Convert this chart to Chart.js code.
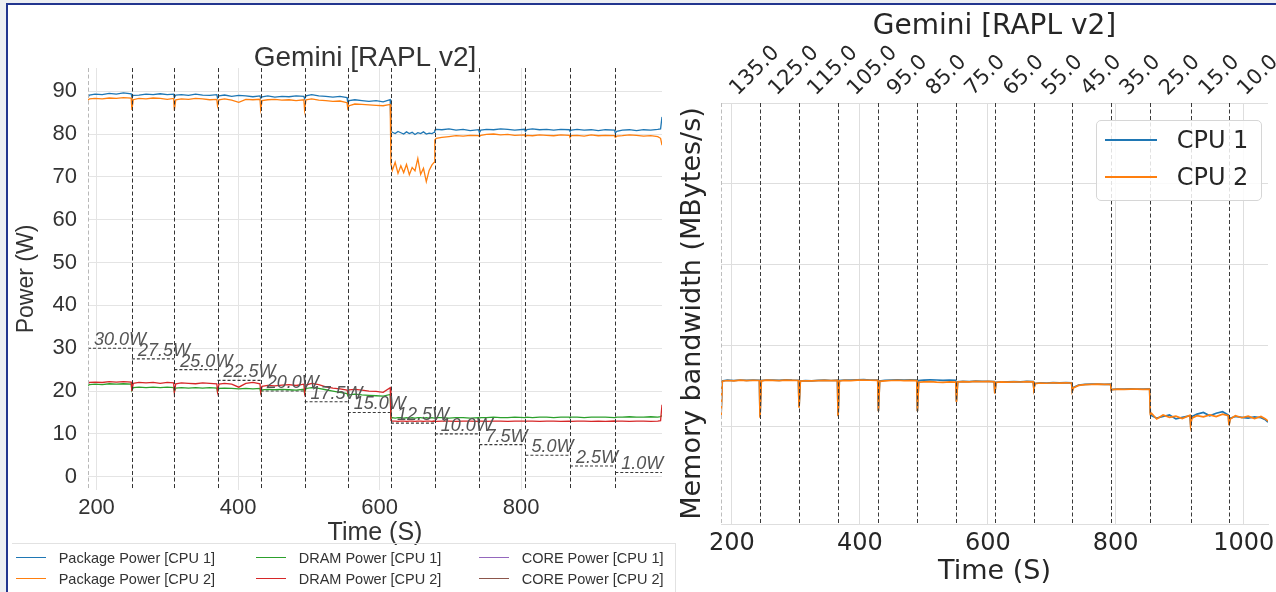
<!DOCTYPE html>
<html>
<head>
<meta charset="utf-8">
<title>Gemini [RAPL v2]</title>
<script src="https://cdn.jsdelivr.net/npm/chart.js@4.4.1/dist/chart.umd.min.js"></script>
<style>
  html, body { margin: 0; padding: 0; }
  body { width: 1276px; height: 592px; position: relative; overflow: hidden; background: #fff; }
  .gutter-left { position: absolute; left: 0; top: 0; width: 6px; height: 592px; background: #eceef2; }
  .gutter-top { position: absolute; left: 0; top: 0; width: 1276px; height: 3px; background: #eceef2; }
  .frame-top { position: absolute; left: 6px; top: 3px; width: 1270px; height: 2px; background: #22358f; }
  .frame-left { position: absolute; left: 6px; top: 3px; width: 2px; height: 589px; background: #22358f; }
  #powerBox { position: absolute; left: 0; top: 0; width: 730px; height: 560px; }
  #bwBox { position: absolute; left: 676px; top: 0; width: 600px; height: 592px; }
  #powerLegend {
    position: absolute; left: 12px; top: 543px; width: 664px; height: 49px; box-sizing: border-box;
    border-top: 1px solid #e2e2e2; border-right: 1px solid #e2e2e2;
    padding: 3px 0 0 4px;
    display: grid; grid-auto-flow: column; grid-template-rows: 21px 21px; grid-template-columns: 240px 223px 1fr;
    font: 14.5px 'Liberation Sans', Arial, sans-serif; color: #333;
  }
  #powerLegend .item { display: flex; align-items: center; white-space: nowrap; }
  #powerLegend .swatch { display: inline-block; width: 30px; height: 1.5px; margin-right: 12.7px; }
  #bwLegend {
    position: absolute; left: 1096px; top: 120px; width: 166px; height: 81px; box-sizing: border-box;
    border: 1px solid #d6d6d6; border-radius: 5px; background: rgba(255, 255, 255, 0.85);
    padding: 1px 0 0 8px;
    font: 24px 'DejaVu Sans', sans-serif; color: #262626;
  }
  #bwLegend .item { display: flex; align-items: center; height: 36.7px; white-space: nowrap; }
  #bwLegend .swatch { display: inline-block; width: 52px; height: 2px; margin-right: 19.7px; }
</style>
</head>
<body>
<div class="gutter-left"></div>
<div class="gutter-top"></div>
<div id="powerBox"><canvas id="powerChart" width="730" height="560"></canvas></div>
<div id="bwBox"><canvas id="bwChart" width="600" height="592"></canvas></div>
<div id="powerLegend"></div>
<div id="bwLegend"></div>
<div class="frame-top"></div>
<div class="frame-left"></div>
<script>
// --- Left panel: RAPL power per CPU ---
// start of each power-cap step (last entry = end of run)
const powerBounds = [188, 250, 310, 371, 432, 494, 555, 616, 678, 741, 806, 869, 933, 999];
const capLevels = [30.0, 27.5, 25.0, 22.5, 20.0, 17.5, 15.0, 12.5, 10.0, 7.5, 5.0, 2.5, 1.0];
const powerTimeTicks = [200, 400, 600, 800];

const tPower = [
  188, 190, 198, 208, 218, 228, 238, 249,
  250, 252, 260, 270, 280, 290, 300, 309,
  310, 312, 320, 330, 340, 350, 360, 370,
  371, 373, 381, 391, 401, 411, 421, 431,
  432, 434, 442, 452, 462, 472, 482, 493,
  494, 496, 504, 514, 524, 534, 544, 554,
  555, 557, 565, 575, 585, 595, 605, 615,
  616, 618, 622, 626, 630, 634, 638, 642, 646, 650, 654, 658, 662, 666, 670, 674, 677,
  678, 680, 688, 698, 708, 718, 728, 740,
  741, 743, 751, 761, 771, 781, 791, 805,
  806, 808, 816, 826, 836, 846, 856, 868,
  869, 871, 879, 889, 899, 909, 919, 932,
  933, 935, 943, 953, 963, 973, 983, 993, 997, 999
];

const pkgCpu1 = [
  88.6, 89.1, 89.3, 89.2, 89.5, 89.3, 89.6, 89.4,
  88.6, 89.0, 89.1, 89.3, 89.2, 89.4, 89.2, 89.3,
  88.5, 89.1, 89.2, 89.0, 89.3, 89.1, 89.0, 89.2,
  88.4, 88.9, 89.1, 88.8, 89.0, 88.9, 88.7, 88.9,
  88.3, 88.7, 88.9, 88.6, 88.8, 88.7, 88.9, 88.8,
  88.2, 88.9, 89.2, 88.9, 88.8, 88.6, 88.8, 88.5,
  87.3, 87.8, 88.0, 87.8, 87.6, 87.8, 87.5, 88.0,
  80.8, 80.4, 80.1, 80.6, 80.3, 80.0, 80.5, 80.1, 80.4, 79.9, 80.3, 80.1, 80.5, 80.0, 80.2, 80.1, 80.4,
  80.9, 81.1, 81.0, 81.2, 80.9, 81.1, 80.8, 81.0,
  80.3, 80.9, 81.1, 81.0, 81.2, 81.1, 80.9, 81.1,
  80.6, 81.0, 81.2, 81.0, 81.1, 80.9, 81.1, 81.0,
  80.7, 80.9, 81.1, 80.9, 81.0, 80.8, 81.0, 80.9,
  80.2, 80.6, 80.9, 81.0, 80.8, 81.0, 80.9, 81.1, 81.2, 84.0
];
const pkgCpu2 = [
  87.9, 88.2, 88.3, 88.2, 88.4, 88.3, 88.5, 88.4,
  85.6, 88.0, 88.3, 88.2, 88.4, 88.3, 88.1, 88.3,
  85.5, 88.0, 88.2, 88.1, 88.3, 88.2, 88.0, 88.1,
  86.6, 88.0, 88.2, 87.9, 87.4, 88.1, 88.0, 88.1,
  85.8, 87.8, 88.0, 88.1, 87.9, 88.0, 87.8, 88.0,
  85.6, 88.0, 88.2, 87.9, 87.8, 87.6, 87.7, 87.3,
  86.0, 86.6, 87.0, 86.9, 86.8, 86.7, 86.6, 86.9,
  73.0, 71.5, 73.4, 70.8, 72.6, 71.0, 72.9, 70.5, 72.2, 71.4, 74.3, 70.6, 72.0, 68.9, 71.5, 72.8, 73.4,
  78.6, 79.0, 79.2, 79.4, 79.6, 79.5, 79.7, 79.6,
  79.4, 79.7, 79.9, 80.0, 79.8, 79.9, 79.7, 79.8,
  79.4, 79.7, 79.6, 79.8, 79.7, 79.6, 79.8, 79.7,
  79.3, 79.6, 79.7, 79.5, 79.8, 79.6, 79.7, 79.6,
  79.2, 79.5, 79.6, 79.8, 79.7, 79.5, 79.6, 79.4, 79.0, 77.4
];
const dramCpu1 = [
  21.3, 21.5, 21.6, 21.5, 21.7, 21.6, 21.7, 21.6,
  20.2, 20.8, 20.9, 20.8, 20.9, 20.8, 20.9, 20.8,
  19.9, 20.7, 20.8, 20.7, 20.8, 20.7, 20.8, 20.7,
  19.8, 20.6, 20.7, 20.6, 20.5, 20.6, 20.5, 20.6,
  19.6, 20.3, 20.4, 20.3, 20.4, 20.3, 20.2, 20.4,
  19.5, 20.6, 20.8, 20.6, 20.3, 20.0, 19.7, 19.4,
  19.0, 19.1, 19.3, 19.1, 19.0, 18.9, 18.8, 19.2,
  13.7, 13.8, 13.7, 13.8, 13.8, 13.7, 13.8, 13.7, 13.8, 13.7, 13.8, 13.8, 13.7, 13.8, 13.7, 13.8, 13.7,
  13.7, 13.8, 13.8, 13.7, 13.8, 13.8, 13.7, 13.8,
  13.7, 13.8, 13.8, 13.9, 13.8, 13.8, 13.9, 13.8,
  13.8, 13.9, 13.8, 13.9, 13.9, 13.8, 13.9, 13.9,
  13.8, 13.9, 13.9, 13.8, 13.9, 13.9, 13.9, 13.8,
  13.8, 13.9, 13.9, 14.0, 13.9, 13.9, 14.0, 13.9, 14.0, 14.3
];
const dramCpu2 = [
  21.7, 22.0, 22.1, 22.0, 22.2, 22.1, 22.2, 22.1,
  20.0, 21.8, 22.0, 21.9, 22.0, 21.8, 22.0, 21.9,
  19.6, 21.7, 21.9, 21.8, 21.7, 21.9, 21.8, 21.7,
  19.8, 21.6, 21.8, 21.6, 20.9, 21.8, 22.0, 21.7,
  19.7, 21.1, 21.3, 21.2, 21.4, 21.5, 21.3, 21.6,
  19.6, 21.4, 21.8, 21.5, 21.0, 20.7, 20.5, 20.2,
  19.8, 20.3, 20.4, 20.2, 20.0, 19.9, 19.7, 20.8,
  13.1, 13.0, 13.0, 12.9, 13.0, 13.0, 12.9, 13.0, 13.0, 12.9, 13.0, 13.0, 12.9, 13.0, 13.0, 12.9, 13.0,
  13.0, 12.9, 13.0, 13.0, 12.9, 13.0, 13.0, 12.9,
  13.0, 13.0, 12.9, 13.0, 13.0, 12.9, 13.0, 13.0,
  12.9, 13.0, 13.0, 12.9, 13.0, 13.0, 12.9, 13.0,
  13.0, 12.9, 13.0, 13.0, 12.9, 13.0, 12.9, 13.0,
  12.9, 13.0, 13.0, 12.9, 13.0, 13.0, 12.9, 13.0, 13.1, 16.8
];
// CORE power was not recorded on this machine, only listed in the legend
const coreCpu1 = [];
const coreCpu2 = [];

// --- Right panel: memory bandwidth per CPU ---
const bwBounds = [183, 244, 305, 366, 429, 490, 551, 611, 672, 732, 793, 854, 917, 977, 1038];
const bwLimits = ['135.0', '125.0', '115.0', '105.0', '95.0', '85.0', '75.0', '65.0', '55.0', '45.0', '35.0', '25.0', '15.0', '10.0'];
const bwTimeTicks = [200, 400, 600, 800, 1000];
const bwGrid = [10000, 20000, 30000, 40000, 50000];

const tBw = [
  183, 185, 193, 203, 213, 223, 233, 243,
  244, 246, 254, 264, 274, 284, 294, 304,
  305, 307, 315, 325, 335, 345, 355, 365,
  366, 368, 376, 386, 396, 406, 416, 428,
  429, 431, 439, 449, 459, 469, 479, 489,
  490, 492, 500, 510, 520, 530, 540, 550,
  551, 553, 561, 571, 581, 591, 601, 610,
  611, 613, 621, 631, 641, 651, 661, 671,
  672, 674, 682, 692, 702, 712, 722, 731,
  732, 734, 742, 752, 762, 772, 782, 792,
  793, 795, 803, 813, 823, 833, 843, 853,
  854, 856, 864, 874, 884, 894, 904, 916,
  917, 919, 927, 937, 947, 957, 967, 976,
  977, 979, 987, 997, 1007, 1017, 1027, 1034, 1038
];
const bwCpu1 = [
  11300, 15600, 15700, 15650, 15720, 15680, 15710, 15690,
  11200, 15650, 15720, 15700, 15680, 15730, 15700, 15690,
  12400, 15600, 15650, 15620, 15680, 15700, 15660, 15690,
  11300, 15650, 15720, 15700, 15740, 15760, 15720, 15700,
  11900, 15600, 15680, 15720, 15750, 15700, 15730, 15720,
  11900, 15650, 15700, 15740, 15720, 15680, 15710, 15690,
  13100, 15500, 15560, 15520, 15580, 15540, 15560, 15520,
  14100, 15450, 15500, 15480, 15520, 15500, 15540, 15520,
  14700, 15300, 15380, 15350, 15400, 15360, 15390, 15370,
  14400, 14800, 15100, 15180, 15200, 15220, 15190, 15210,
  14500, 14560, 14600, 14580, 14620, 14600, 14580, 14610,
  11700, 11300, 11000, 11200, 11400, 10900, 11100, 11300,
  10300, 11200, 11500, 11700, 11300, 11600, 11800, 11400,
  10200, 11000, 11200, 11100, 11000, 11150, 11050, 10800, 10500
];
const bwCpu2 = [
  11000, 15580, 15660, 15620, 15700, 15650, 15690, 15660,
  11050, 15620, 15700, 15670, 15650, 15700, 15680, 15660,
  12300, 15580, 15620, 15600, 15650, 15680, 15640, 15660,
  11230, 15600, 15680, 15650, 15700, 15720, 15690, 15670,
  11850, 15550, 15620, 15660, 15690, 15640, 15670, 15650,
  11850, 15450, 15500, 15520, 15460, 15420, 15480, 15450,
  13000, 15480, 15530, 15500, 15550, 15520, 15540, 15500,
  14040, 15420, 15480, 15450, 15500, 15470, 15510, 15490,
  14650, 15280, 15350, 15320, 15380, 15340, 15370, 15350,
  14320, 14750, 15050, 15150, 15180, 15200, 15170, 15190,
  14450, 14540, 14580, 14560, 14600, 14580, 14560, 14590,
  11500, 11600, 10900, 11400, 11100, 11250, 10950, 11350,
  10120, 11000, 11300, 11150, 11400, 11200, 11500, 11300,
  10120, 10900, 11300, 11050, 11250, 10950, 11200, 10900, 10650
];

const LEFT_FONT = "'Liberation Sans', Arial, sans-serif";
const RIGHT_FONT = "'DejaVu Sans', sans-serif";

function xy(times, values) {
  return values.map((v, i) => ({ x: times[i], y: v }));
}

function lineSeries(label, times, values, color, width, order) {
  return {
    label, data: xy(times, values), order,
    borderColor: color, backgroundColor: color, borderWidth: width,
    pointRadius: 0, tension: 0, fill: false
  };
}

// dashed horizontal segment per power cap, broken between steps
function capSteps() {
  const pts = [];
  capLevels.forEach((lvl, i) => {
    pts.push({ x: powerBounds[i], y: lvl }, { x: powerBounds[i + 1], y: lvl }, { x: powerBounds[i + 1], y: null });
  });
  return pts;
}

// vertical dashed lines where the limit changes
const boundaryLines = {
  id: 'boundaryLines',
  afterDatasetsDraw(chart, args, opts) {
    const { ctx, chartArea, scales: { x } } = chart;
    ctx.save();
    ctx.lineWidth = 1;
    ctx.setLineDash(opts.dash);
    opts.times.forEach((t, i) => {
      const px = Math.round(x.getPixelForValue(t)) + 0.5;
      ctx.strokeStyle = i === 0 ? opts.edgeColor : opts.color;
      ctx.beginPath();
      ctx.moveTo(px, chartArea.top);
      ctx.lineTo(px, chartArea.bottom);
      ctx.stroke();
    });
    ctx.restore();
  }
};

const capLabels = {
  id: 'capLabels',
  afterDatasetsDraw(chart, args, opts) {
    const { ctx, scales: { x, y } } = chart;
    ctx.save();
    ctx.font = opts.font;
    ctx.fillStyle = opts.color;
    ctx.textAlign = 'left';
    ctx.textBaseline = 'alphabetic';
    capLevels.forEach((lvl, i) => {
      ctx.fillText(lvl.toFixed(1) + 'W', x.getPixelForValue(powerBounds[i]) + 6, y.getPixelForValue(lvl) - 3);
    });
    ctx.restore();
  }
};

function buildLegend(chart, el, count) {
  chart.data.datasets.slice(0, count).forEach(ds => {
    const item = document.createElement('div');
    item.className = 'item';
    const swatch = document.createElement('span');
    swatch.className = 'swatch';
    swatch.style.background = ds.borderColor;
    const label = document.createElement('span');
    label.textContent = ds.label;
    item.append(swatch, label);
    el.appendChild(item);
  });
}

const noPad = s => { s.paddingLeft = 0; s.paddingRight = 0; s.paddingTop = 0; s.paddingBottom = 0; };
const fixedTicks = values => s => { s.ticks = values.map(v => ({ value: v })); };

const powerChart = new Chart(document.getElementById('powerChart'), {
  type: 'line',
  data: {
    datasets: [
      lineSeries('Package Power [CPU 1]', tPower, pkgCpu1, '#1f77b4', 1.3, 7),
      lineSeries('Package Power [CPU 2]', tPower, pkgCpu2, '#ff7f0e', 1.3, 6),
      lineSeries('DRAM Power [CPU 1]', tPower, dramCpu1, '#2ca02c', 1.3, 5),
      lineSeries('DRAM Power [CPU 2]', tPower, dramCpu2, '#d62728', 1.3, 4),
      lineSeries('CORE Power [CPU 1]', tPower, coreCpu1, '#9467bd', 1.3, 3),
      lineSeries('CORE Power [CPU 2]', tPower, coreCpu2, '#8c564b', 1.3, 2),
      {
        label: 'cap', data: capSteps(), order: 8,
        borderColor: '#3a3a3a', borderWidth: 1.1, borderDash: [3, 2],
        pointRadius: 0, fill: false, spanGaps: false
      }
    ]
  },
  options: {
    responsive: false,
    animation: false,
    plugins: {
      legend: { display: false },
      tooltip: { enabled: false },
      title: {
        display: true, text: 'Gemini [RAPL v2]', color: '#333',
        font: { family: LEFT_FONT, size: 28, weight: 'normal', lineHeight: 0.68 },
        padding: { top: 49, bottom: 0 }
      },
      boundaryLines: { times: powerBounds.slice(0, -1), color: '#333', edgeColor: '#b8b8b8', dash: [4, 2.5] },
      capLabels: { font: 'italic 18px ' + LEFT_FONT, color: '#555' }
    },
    scales: {
      x: {
        type: 'linear', min: 188, max: 999,
        afterBuildTicks: fixedTicks(powerTimeTicks),
        afterFit: s => { s.height = 70; noPad(s); },
        grid: { color: '#e4e4e4', drawTicks: false },
        border: { display: false },
        ticks: { maxRotation: 0, padding: 5, color: '#333', font: { family: LEFT_FONT, size: 22 }, callback: v => String(v) },
        title: { display: true, text: 'Time (S)', color: '#333', font: { family: LEFT_FONT, size: 25 }, padding: { top: 0, bottom: 12 } }
      },
      y: {
        min: -3.1, max: 95.4,
        afterFit: s => { s.width = 88; noPad(s); },
        grid: { color: '#e4e4e4', drawTicks: false },
        border: { display: false },
        ticks: { stepSize: 10, includeBounds: false, padding: 11, color: '#333', font: { family: LEFT_FONT, size: 22 } },
        title: { display: true, text: 'Power (W)', color: '#333', font: { family: LEFT_FONT, size: 23 }, padding: { top: 13, bottom: 0 } }
      },
      // empty right-hand box: reserves the gap so the full-width title sits where the original had it
      yPad: {
        position: 'right', display: true,
        afterFit: s => { s.width = 68; noPad(s); },
        grid: { display: false, drawTicks: false },
        border: { display: false },
        ticks: { display: false }
      }
    }
  },
  plugins: [boundaryLines, capLabels]
});

const bwChart = new Chart(document.getElementById('bwChart'), {
  type: 'line',
  data: {
    datasets: [
      lineSeries('CPU 1', tBw, bwCpu1, '#1f77b4', 1.7, 2),
      lineSeries('CPU 2', tBw, bwCpu2, '#ff7f0e', 1.7, 1)
    ]
  },
  options: {
    responsive: false,
    animation: false,
    layout: { padding: { right: 8 } },
    plugins: {
      legend: { display: false },
      tooltip: { enabled: false },
      title: {
        display: true, text: 'Gemini [RAPL v2]', fullSize: false, color: '#262626',
        font: { family: RIGHT_FONT, size: 28, weight: 'normal', lineHeight: 1 },
        padding: { top: 13, bottom: 0 }
      },
      boundaryLines: { times: bwBounds.slice(0, -1), color: '#3a3a3a', edgeColor: '#bdbdbd', dash: [4, 2.5] }
    },
    scales: {
      x: {
        type: 'linear', min: 183, max: 1038,
        afterBuildTicks: fixedTicks(bwTimeTicks),
        afterFit: s => { s.height = 68; noPad(s); },
        grid: { color: '#dedede', drawTicks: false },
        border: { display: true, color: '#dedede' },
        ticks: { maxRotation: 0, padding: 5, color: '#262626', font: { family: RIGHT_FONT, size: 24 }, callback: v => String(v) },
        title: { display: true, text: 'Time (S)', color: '#262626', font: { family: RIGHT_FONT, size: 27 }, padding: { top: 0, bottom: 4 } }
      },
      x2: {
        type: 'linear', position: 'top', min: 183, max: 1038,
        // one label per bandwidth limit, centred on its interval
        afterBuildTicks: s => { s.ticks = bwLimits.map((_, i) => ({ value: (bwBounds[i] + bwBounds[i + 1]) / 2 })); },
        afterFit: s => { s.height = 62; noPad(s); },
        grid: { display: false, drawTicks: false },
        border: { display: false },
        ticks: {
          autoSkip: false, minRotation: 45, maxRotation: 45, padding: 2, labelOffset: 11,
          color: '#262626', font: { family: RIGHT_FONT, size: 21 },
          callback: (v, i) => bwLimits[i]
        }
      },
      y: {
        min: -2100, max: 50000,
        afterBuildTicks: fixedTicks(bwGrid),
        afterFit: s => { s.width = 45; noPad(s); },
        grid: { color: '#dedede', drawTicks: false },
        border: { display: false },
        ticks: { display: false },
        title: { display: true, text: 'Memory bandwidth (MBytes/s)', color: '#262626', font: { family: RIGHT_FONT, size: 27 }, padding: { top: 1, bottom: 0 } }
      }
    }
  },
  plugins: [boundaryLines]
});

buildLegend(powerChart, document.getElementById('powerLegend'), 6);
buildLegend(bwChart, document.getElementById('bwLegend'), 2);
</script>
</body>
</html>
